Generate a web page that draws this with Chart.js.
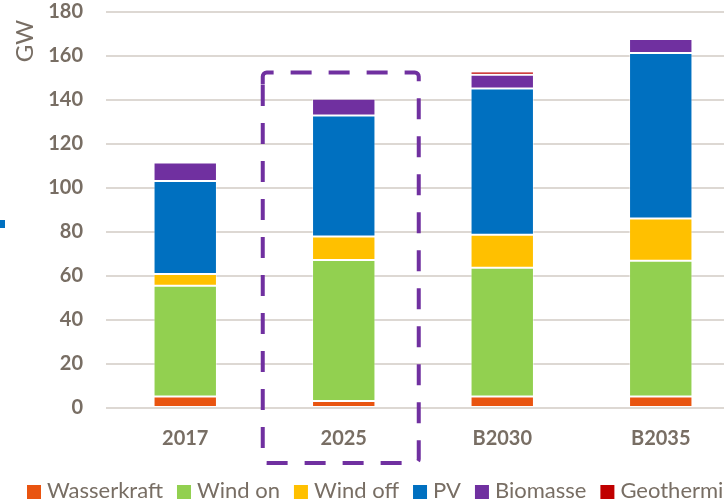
<!DOCTYPE html>
<html>
<head>
<meta charset="utf-8">
<script src="https://cdn.jsdelivr.net/npm/chart.js@4/dist/chart.umd.min.js"></script>
<style>
  html, body { margin: 0; padding: 0; background: #ffffff; overflow: hidden; width: 724px; height: 504px; }
  #wrap { position: absolute; left: 0; top: 0; width: 756px; height: 504px; }
  #mark { position: absolute; left: 0; top: 220px; width: 5px; height: 8px; background: #0070C0; }
</style>
</head>
<body>
<div id="wrap"><canvas id="c"></canvas></div>
<div id="mark"></div>
<script>
const categories = ['2017', '2025', 'B2030', 'B2035'];
const wasserkraft = [5.2, 3.2, 5.2, 5.2];
const windOn = [50.4, 64.1, 58.6, 61.7];
const windOff = [5.3, 10.7, 15.0, 19.2];
const pv = [42.3, 55.0, 66.4, 75.3];
const biomasse = [8.4, 7.6, 6.3, 6.3];
const geothermie = [0.1, 0.6, 1.4, 0.9];
const yTicks = [0, 20, 40, 60, 80, 100, 120, 140, 160, 180];
const highlightIndex = 1;
const highlightTop = 152.5;

const TXT = '#786E64';
const FONT = 'Lato';

function ds(label, data, color) {
  return { label, data, backgroundColor: color, borderColor: 'rgba(255,255,255,0.45)', borderWidth: 1, borderSkipped: false,
           categoryPercentage: 1.0, barPercentage: 0.4, stack: 's' };
}

const overlay = {
  id: 'overlay',
  afterDatasetsDraw(chart) {
    const ctx = chart.ctx;
    const x = chart.scales.x, y = chart.scales.y;
    const cx = x.getPixelForValue(highlightIndex);
    const left = cx - 81, right = cx + 75;
    const top = y.getPixelForValue(highlightTop);
    const bottom = chart.chartArea.bottom + 55;
    const r = 4;
    ctx.save();
    ctx.strokeStyle = '#7030A0';
    ctx.lineWidth = 4;
    ctx.setLineDash([21, 17]);
    ctx.beginPath();
    ctx.moveTo(left, top + 12);
    ctx.lineTo(left, top + r);
    ctx.arcTo(left, top, left + r, top, r);
    ctx.lineTo(right - r, top);
    ctx.arcTo(right, top, right, top + r, r);
    ctx.lineTo(right, bottom - r);
    ctx.arcTo(right, bottom, right - r, bottom, r);
    ctx.lineTo(left + r, bottom);
    ctx.arcTo(left, bottom, left, bottom - r, r);
    ctx.lineTo(left, top + 12);
    ctx.stroke();
    ctx.restore();
  },
  afterDraw(chart) {
    const ctx = chart.ctx;
    // axis unit label
    ctx.save();
    ctx.fillStyle = TXT;
    ctx.font = '24px ' + FONT;
    ctx.translate(chart.chartArea.left - 81, chart.chartArea.top + 29);
    ctx.rotate(-Math.PI / 2);
    ctx.textAlign = 'center';
    ctx.textBaseline = 'middle';
    ctx.fillText('GW', 0, 0);
    ctx.restore();
    // legend
    ctx.save();
    ctx.font = '22px ' + FONT;
    ctx.textBaseline = 'alphabetic';
    ctx.textAlign = 'left';
    let lx = 27;
    const boxTop = chart.height - 19, base = chart.height - 6;
    chart.data.datasets.forEach(d => {
      ctx.fillStyle = d.backgroundColor;
      ctx.fillRect(lx, boxTop, 14, 14);
      ctx.fillStyle = TXT;
      ctx.fillText(d.label, lx + 20, base);
      lx += 20 + ctx.measureText(d.label).width + 14;
    });
    ctx.restore();
  }
};

new Chart(document.getElementById('c'), {
  type: 'bar',
  data: {
    labels: categories,
    datasets: [
      ds('Wasserkraft', wasserkraft, '#E95410'),
      ds('Wind on', windOn, '#92D050'),
      ds('Wind off', windOff, '#FFC000'),
      ds('PV', pv, '#0070C0'),
      ds('Biomasse', biomasse, '#7030A0'),
      ds('Geothermie', geothermie, '#C00000')
    ]
  },
  options: {
    responsive: true,
    maintainAspectRatio: false,
    animation: false,
    layout: { padding: { left: 0, right: 16, top: 2, bottom: 34 } },
    plugins: {
      legend: { display: false },
      tooltip: { enabled: false }
    },
    scales: {
      x: {
        stacked: true,
        grid: { display: false, drawTicks: false },
        border: { display: false },
        ticks: { color: TXT, font: { family: FONT, size: 20, weight: 'bold' }, padding: 19 }
      },
      y: {
        stacked: true,
        min: 0, max: 180,
        afterBuildTicks(axis) { axis.ticks = yTicks.map(v => ({ value: v })); },
        afterFit(axis) { axis.width = 106; axis.paddingTop = 12; axis.paddingBottom = 0; },
        grid: { color: '#DDD8D3', lineWidth: 2, drawTicks: false },
        border: { display: false },
        ticks: { color: TXT, font: { family: FONT, size: 20, weight: 'bold' }, padding: 23 }
      }
    }
  },
  plugins: [overlay]
});
</script>
</body>
</html>
